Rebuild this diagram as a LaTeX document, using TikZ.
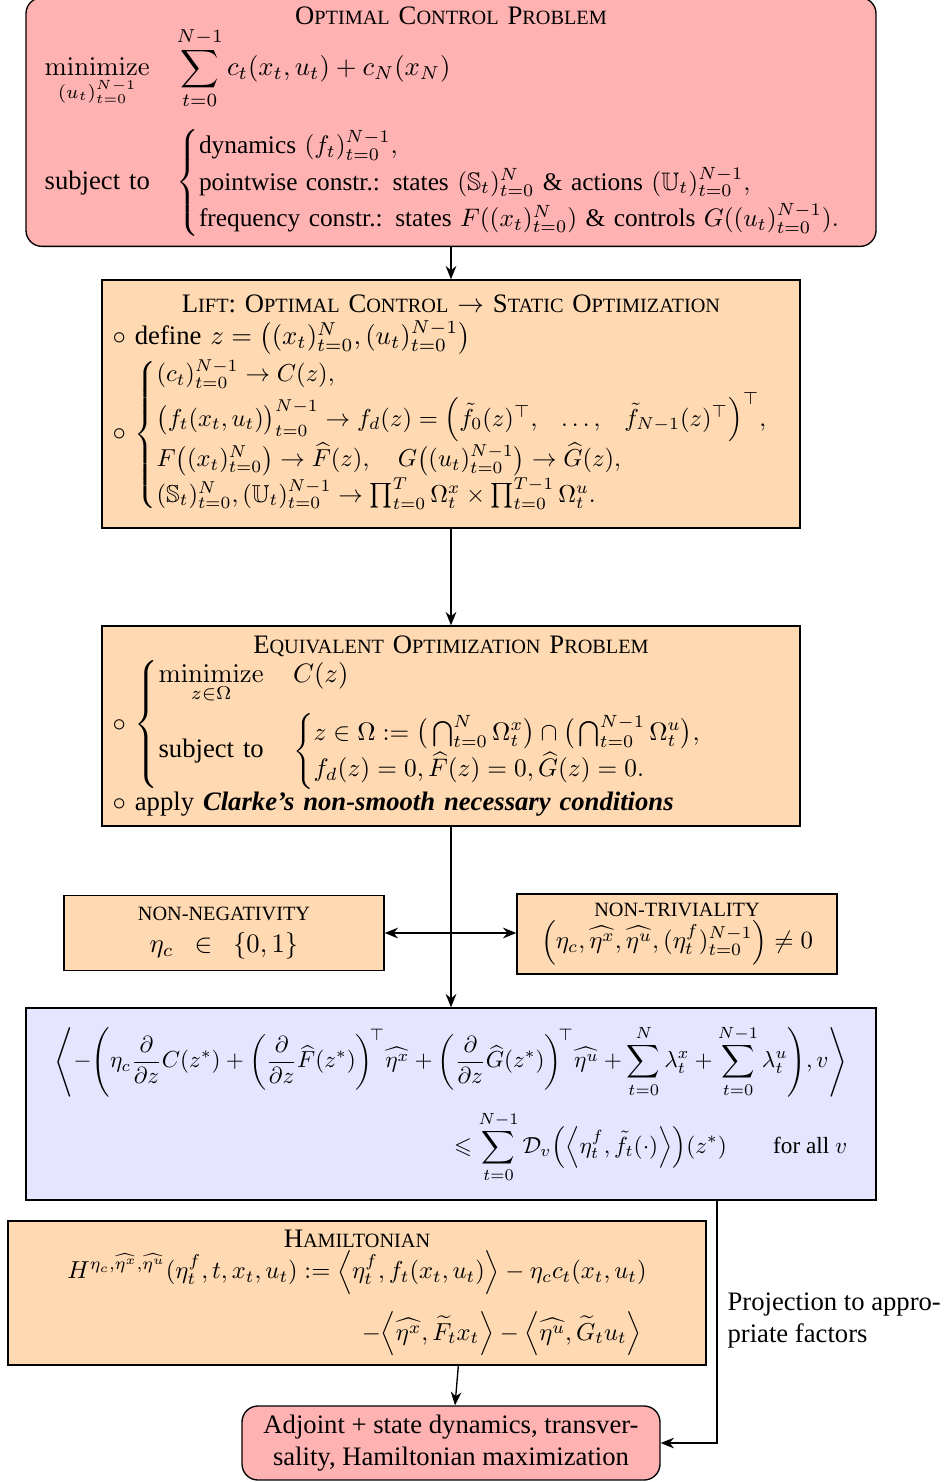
\documentclass[tikz,border=0pt]{standalone}
\usepackage{amsmath}
\usepackage{amssymb}
\usepackage{graphicx}
\usepackage[no-math]{fontspec}
\setmainfont{Liberation Serif}
\usetikzlibrary{arrows.meta}
\newcommand{\smc}[1]{{\fontsize{7.6}{9}\selectfont #1}}

\begin{document}
\begin{tikzpicture}[x=0.375pt,y=-0.375pt,line width=0.5pt,
  box/.style={draw=black,fill=orange!30,inner xsep=4pt,inner ysep=2pt},
  probbox/.style={draw=black,fill=red!30,rounded corners=6pt},
  arr/.style={-{Stealth[length=5pt,width=4pt]}},
  dblarr/.style={{Stealth[length=5pt,width=4pt]}-{Stealth[length=5pt,width=4pt]}}]
\useasboundingbox (0,0) rectangle (946,1482);
% original problem
\node[probbox,text width=304.75pt,minimum height=91.5pt,inner xsep=7pt] (ocp) at (451,122) {%
{\centering O\smc{PTIMAL} C\smc{ONTROL} P\smc{ROBLEM}\par}
$\begin{array}{@{}l@{\hspace{10pt}}l@{}}
\displaystyle\operatorname*{minimize}_{(u_t)_{t=0}^{N-1}} & \displaystyle\sum_{t=0}^{N-1} c_t(x_t,u_t)+c_N(x_N)\\[16pt]
\text{subject to} & \scalebox{0.95}{$\begin{cases}
\text{dynamics } (f_t)_{t=0}^{N-1},\\
\text{pointwise constr.: states } (\mathbb{S}_t)_{t=0}^{N} \text{ \& actions } (\mathbb{U}_t)_{t=0}^{N-1},\\
\text{frequency constr.: states } F((x_t)_{t=0}^{N}) \text{ \& controls } G((u_t)_{t=0}^{N-1}).
\end{cases}$}
\end{array}$};
% lift
\node[box,text width=253.75pt,minimum height=93pt] (lift) at (451,404) {%
{\centering L\smc{IFT}: O\smc{PTIMAL} C\smc{ONTROL} $\to$ S\smc{TATIC} O\smc{PTIMIZATION}\par}
$\circ$ define $z=\big((x_t)_{t=0}^{N},(u_t)_{t=0}^{N-1}\big)$\par
$\circ$ \scalebox{0.92}{$\begin{cases}
(c_t)_{t=0}^{N-1}\to C(z),\\
\big(f_t(x_t,u_t)\big)_{t=0}^{N-1}\to f_d(z)=\Big(\tilde f_0(z)^\top,\hspace{8pt}\dots,\hspace{8pt}\tilde f_{N-1}(z)^\top\Big)^{\top},\\
F\big((x_t)_{t=0}^{N}\big)\to\widehat{F}(z),\quad G\big((u_t)_{t=0}^{N-1}\big)\to\widehat{G}(z),\\
(\mathbb{S}_t)_{t=0}^{N},(\mathbb{U}_t)_{t=0}^{N-1}\to\prod_{t=0}^{T}\Omega_t^x\times\prod_{t=0}^{T-1}\Omega_t^u.
\end{cases}$}};
% static problem
\node[box,text width=253.75pt,minimum height=75pt] (equiv) at (451,726) {%
{\centering E\smc{QUIVALENT} O\smc{PTIMIZATION} P\smc{ROBLEM}\par}
$\circ$ $\left\{\begin{array}{@{}l@{\hspace{11pt}}l@{}}
\displaystyle\operatorname*{minimize}_{z\in\Omega} & C(z)\\[8pt]
\text{subject to} & \scalebox{0.95}{$\begin{cases}
z\in\Omega:=\big(\bigcap_{t=0}^{N}\Omega_t^x\big)\cap\big(\bigcap_{t=0}^{N-1}\Omega_t^u\big),\\
f_d(z)=0,\widehat{F}(z)=0,\widehat{G}(z)=0.
\end{cases}$}
\end{array}\right.$\par
$\circ$ apply \textbf{\textit{Clarke's non-smooth necessary conditions}}};
% side conditions
\node[box,minimum width=120pt,minimum height=28pt,align=center] (nonneg) at (224,933) {%
\smc{NON-NEGATIVITY}\\ $\eta_c\ \ \in\ \ \{0,1\}$};
\node[box,minimum width=120pt,minimum height=30pt,align=center] (nontriv) at (677,934) {%
\smc{NON-TRIVIALITY}\\ \scalebox{0.93}{$\Big(\eta_c,\widehat{\eta^x},\widehat{\eta^u},(\eta_t^f)_{t=0}^{N-1}\Big)\neq 0$}};
% necessary conditions
\node[draw=black,fill=blue!10,minimum width=318.75pt,minimum height=72pt,align=right] (kkt) at (451,1104) {%
\scalebox{0.87}{$\displaystyle\left\langle-\Bigg(\eta_c\frac{\partial}{\partial z}C(z^*)+\bigg(\frac{\partial}{\partial z}\widehat{F}(z^*)\bigg)^{\!\top}\widehat{\eta^x}+\bigg(\frac{\partial}{\partial z}\widehat{G}(z^*)\bigg)^{\!\top}\widehat{\eta^u}+\sum_{t=0}^{N}\lambda_t^x+\sum_{t=0}^{N-1}\lambda_t^u\Bigg),v\right\rangle$}\\[4pt]
\scalebox{0.87}{$\displaystyle\leqslant\sum_{t=0}^{N-1}\mathcal{D}_v\Big(\Big\langle\eta_t^f,\tilde f_t(\cdot)\Big\rangle\Big)(z^*)\qquad\text{for all }v$}};
% hamiltonian
\node[box,minimum width=261.75pt,minimum height=54pt,align=center] (ham) at (357,1293) {%
H\smc{AMILTONIAN}\\
\scalebox{0.92}{$\begin{array}{@{}r@{}}
H^{\eta_c,\widehat{\eta^x},\widehat{\eta^u}}(\eta_t^f,t,x_t,u_t):=\Big\langle\eta_t^f,f_t(x_t,u_t)\Big\rangle-\eta_c c_t(x_t,u_t)\\[10pt]
-\Big\langle\widehat{\eta^x},\widetilde{F}_t x_t\Big\rangle-\Big\langle\widehat{\eta^u},\widetilde{G}_t u_t\Big\rangle\hspace{2pt}
\end{array}$}};
\node[probbox,minimum width=156.75pt,minimum height=27.4pt,align=center] (adj) at (451,1443) {%
Adjoint + state dynamics, transver-\\sality, Hamiltonian maximization};
\node[anchor=west,align=left] (proj) at (718,1320) {Projection to appro-\\priate factors};
\coordinate (projtop) at ([xshift=99.75pt]kkt.south);
% connectors
\draw[arr] (ocp) -- (lift);
\draw[arr] (lift) -- (equiv);
\draw[arr] (equiv) -- (kkt);
\draw[dblarr] (nonneg.east) -- (nonneg.east -| nontriv.west);
\draw[arr] ([xshift=38pt]ham.south) -- ([xshift=1.5pt]adj.north);
\draw[arr] (projtop) |- (adj.east);
\end{tikzpicture}
\end{document}
